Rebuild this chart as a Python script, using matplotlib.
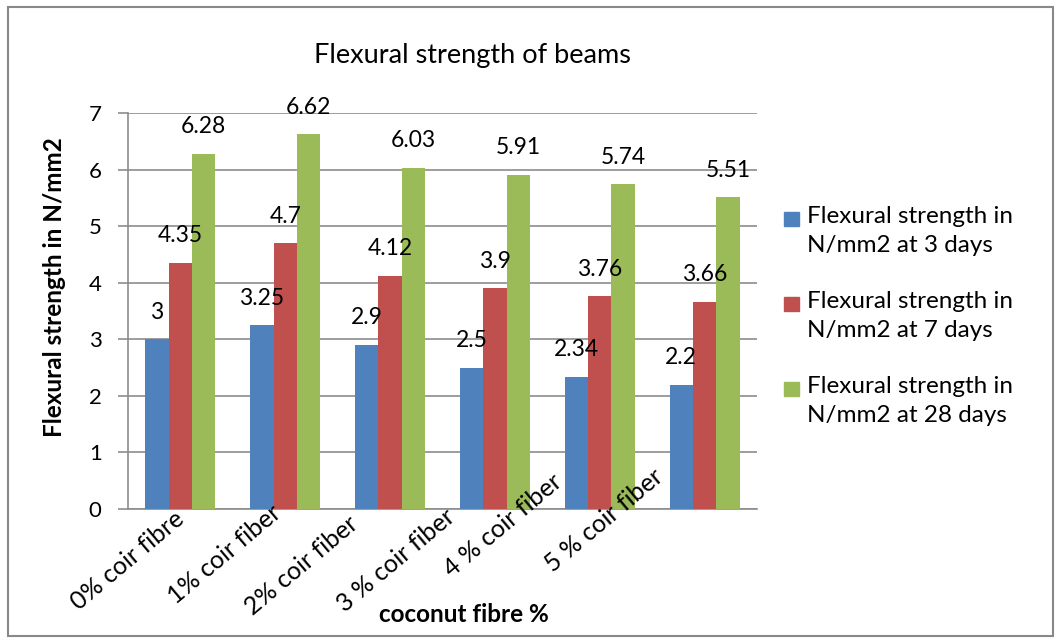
import numpy as np
import matplotlib
matplotlib.use('Agg')
import matplotlib.pyplot as plt
import matplotlib.transforms as mtransforms
from matplotlib.patches import Rectangle

plt.rcParams['font.family'] = ['Lato', 'DejaVu Sans']

# data
categories = ['0% coir fibre', '1% coir fiber', '2% coir fiber',
              '3 % coir fiber', '4 % coir fiber', '5 % coir fiber']
days_3 = [3.0, 3.25, 2.9, 2.5, 2.34, 2.2]
days_7 = [4.35, 4.7, 4.12, 3.9, 3.76, 3.66]
days_28 = [6.28, 6.62, 6.03, 5.91, 5.74, 5.51]
series_names = ['Flexural strength in\nN/mm2 at 3 days',
                'Flexural strength in\nN/mm2 at 7 days',
                'Flexural strength in\nN/mm2 at 28 days']
colors = ['#4F81BD', '#C0504D', '#9BBB59']

W, H = 1061, 644
fig = plt.figure(figsize=(W / 100, H / 100), dpi=100)
ax = fig.add_axes([128 / W, 1 - 509 / H, (757 - 128) / W, (509 - 113) / H])

grey = '#8c8c8c'
x = np.arange(len(categories))
bw = 1 / 4.5   # excel gap width 150%
for k, vals in enumerate([days_3, days_7, days_28]):
    bars = ax.bar(x + (k - 1) * bw, vals, bw, color=colors[k], zorder=3)
    for b, v in zip(bars, vals):
        ax.annotate(f'{v:g}', (b.get_x() + b.get_width() / 2, v),
                    xytext=(0, 19.5), textcoords='offset points',
                    ha='center', va='center', fontsize=16.5, zorder=5)

ax.set_xlim(-0.5, len(categories) - 0.5)
ax.set_ylim(0, 7)
ax.set_yticks(range(0, 8))
ax.tick_params(axis='y', labelsize=16, length=7, color=grey, width=1.2, pad=12)
ax.grid(axis='y', color=grey, lw=1.2)
ax.yaxis.set_zorder(0.5)
ax.xaxis.set_zorder(4)   # rotated labels sit on top of the bars
for s in ['top', 'right']:
    ax.spines[s].set_visible(False)
ax.spines['left'].set_color(grey)
ax.spines['bottom'].set_color(grey)
ax.spines['left'].set_linewidth(1.2)
ax.spines['bottom'].set_linewidth(1.2)

ax.set_xticks(x)
ax.set_xticklabels(categories, rotation=40, ha='right', va='top',
                   rotation_mode='anchor', fontsize=18)
ax.tick_params(axis='x', length=0, pad=4)
# excel places the rotated labels a bit irregularly
shifts = [(-7, 8), (-15, 14), (-43, 3), (-50, 10), (-48, 45), (-52, 50)]
for lab, (dx, dy) in zip(ax.get_xticklabels(), shifts):
    lab.set_transform(lab.get_transform() +
                      mtransforms.ScaledTranslation(dx / 100, dy / 100, fig.dpi_scale_trans))

fig.text(55 / W, 1 - 287 / H, 'Flexural strength in N/mm2', fontsize=17.5,
         fontweight='bold', rotation=90, ha='center', va='center')
fig.text(464 / W, 1 - 615 / H, 'coconut fibre %', fontsize=17.5, fontweight='bold',
         ha='center', va='center')

fig.text(472 / W, 1 - 55 / H, 'Flexural strength of beams', fontsize=19.5,
         ha='center', va='center')

# legend drawn by hand so the swatch sits at the first line like excel
for k, name in enumerate(series_names):
    yc = 219 + k * 85
    fig.patches.append(Rectangle((784 / W, 1 - (yc + 7) / H), 15 / W, 14 / H,
                                 transform=fig.transFigure, color=colors[k]))
    fig.text(807 / W, 1 - (yc - 13) / H, name, fontsize=17.5, ha='left', va='top',
             linespacing=1.45)

fig.patches.append(Rectangle((8 / W, 1 - 636 / H), (1053 - 8) / W, (636 - 7) / H,
                             transform=fig.transFigure, fill=False,
                             edgecolor='#888888', lw=1.5))

fig.savefig('out.png', dpi=100)
